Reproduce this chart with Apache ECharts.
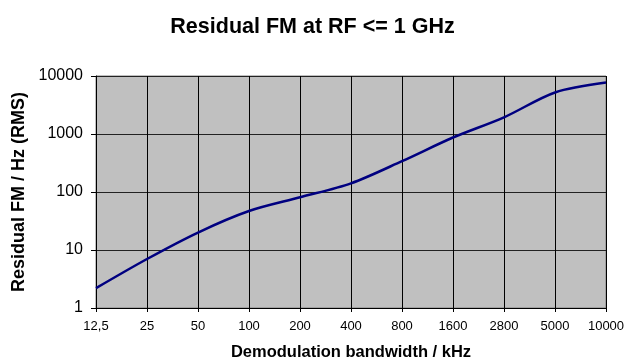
<!DOCTYPE html>
<html>
<head>
<meta charset="utf-8">
<script src="https://cdn.jsdelivr.net/npm/echarts@6/dist/echarts.min.js"></script>
<style>
html,body{margin:0;padding:0;background:#fff;}
#chart{width:625px;height:363px;}
</style>
</head>
<body>
<div id="chart"></div>
<script>
const titleText = 'Residual FM at RF <= 1 GHz';
const xAxisTitle = 'Demodulation bandwidth / kHz';
const yAxisTitle = 'Residual FM / Hz (RMS)';
const categories = ['12,5','25','50','100','200','400','800','1600','2800','5000','10000'];
const residualFM = [2.2, 7.0, 20, 47, 81, 141, 340, 870, 1940, 5200, 7700];
const yTicks = [1, 10, 100, 1000, 10000];

const chart = echarts.init(document.getElementById('chart'), null, {renderer:'canvas'});
chart.setOption({
  animation:false,
  backgroundColor:'#ffffff',
  title:{
    text:titleText, left:'center', top:11,
    textStyle:{fontFamily:'Arial, "Liberation Sans", sans-serif', fontSize:21.5, fontWeight:'bold', color:'#000'}
  },
  grid:{left:96, right:19, top:76, bottom:55, containLabel:false, outerBoundsMode:'none',
    show:true, backgroundColor:'#c0c0c0', borderColor:'#808080', borderWidth:1},
  xAxis:{
    type:'category', data:categories, boundaryGap:false,
    name:xAxisTitle, nameLocation:'middle', nameGap:36,
    nameTextStyle:{fontFamily:'Arial, "Liberation Sans", sans-serif', fontSize:16.5, fontWeight:'bold', color:'#000'},
    axisLine:{lineStyle:{color:'#000', width:1}},
    axisTick:{show:true, length:4, inside:false, alignWithLabel:true, lineStyle:{color:'#000'}},
    axisLabel:{interval:0, margin:12, fontFamily:'Arial, "Liberation Sans", sans-serif', fontSize:13, color:'#000'},
    splitLine:{show:true, lineStyle:{color:'#000', width:1}}
  },
  yAxis:{
    type:'log', logBase:10, min:yTicks[0], max:yTicks[yTicks.length-1],
    name:yAxisTitle, nameLocation:'middle', nameGap:64, nameRotate:90,
    nameTextStyle:{fontFamily:'Arial, "Liberation Sans", sans-serif', fontSize:18, fontWeight:'bold', color:'#000'},
    axisLine:{show:true, lineStyle:{color:'#000', width:1}},
    axisTick:{show:true, length:5, lineStyle:{color:'#000'}},
    axisLabel:{margin:13, fontFamily:'Arial, "Liberation Sans", sans-serif', fontSize:16, color:'#000',
      formatter:function(v){ return String(Math.round(v)); }},
    splitLine:{show:true, lineStyle:{color:'#222', width:1}},
    minorTick:{show:false}
  },
  series:[{
    type:'line', data:residualFM, smooth:0.3, symbol:'none',
    lineStyle:{color:'#000080', width:2.5}
  }]
});
</script>
</body>
</html>
